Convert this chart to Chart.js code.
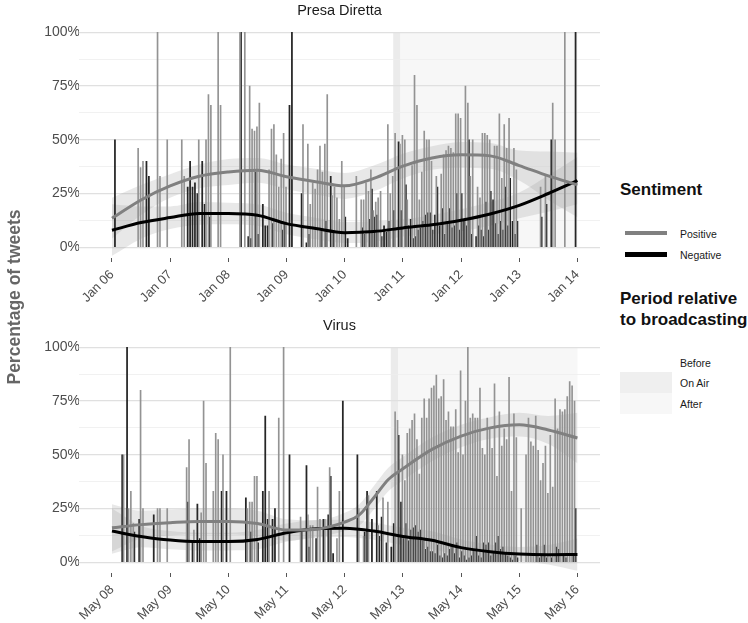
<!DOCTYPE html>
<html>
<head>
<meta charset="utf-8">
<script src="https://cdn.jsdelivr.net/npm/chart.js@4.4.1/dist/chart.umd.min.js"></script>
<style>
  body { margin: 0; background: #fff; font-family: "Liberation Sans", Arial, sans-serif; }
  #wrap { position: relative; width: 748px; height: 623px; overflow: hidden; }
  .panel { position: absolute; left: 0; width: 610px; height: 315px; }
  .abs { position: absolute; white-space: nowrap; }
  .ytitle { left: -136px; top: 287px; width: 300px; text-align: center; font-weight: bold;
            font-size: 17.5px; line-height: 20px; color: #666; transform: rotate(-90deg); }
  .lgtitle { font-weight: bold; font-size: 17px; line-height: 21px; color: #111; left: 620px; }
  .lglabel { font-size: 10.5px; line-height: 12px; color: #1a1a1a; left: 680px; }
</style>
</head>
<body>
<div id="wrap">
  <div class="panel" style="top:0"><canvas id="pdChart" width="610" height="315"></canvas></div>
  <div class="panel" style="top:315px"><canvas id="virusChart" width="610" height="315"></canvas></div>

  <div class="abs ytitle">Percentage of tweets</div>

  <div class="abs lgtitle" style="top:178.6px">Sentiment</div>
  <div class="abs" style="left:625px;top:231px;width:42px;height:4px;background:#808080"></div>
  <div class="abs lglabel" style="top:227.5px">Positive</div>
  <div class="abs" style="left:625px;top:252px;width:42px;height:5px;background:#000"></div>
  <div class="abs lglabel" style="top:248.5px">Negative</div>

  <div class="abs lgtitle" style="top:287.6px">Period relative<br>to broadcasting</div>
  <div class="abs" style="left:620px;top:372px;width:52px;height:21px;background:#efefef"></div>
  <div class="abs" style="left:620px;top:393px;width:52px;height:21px;background:#f7f7f7"></div>
  <div class="abs lglabel" style="top:356.7px">Before</div>
  <div class="abs lglabel" style="top:377.3px">On Air</div>
  <div class="abs lglabel" style="top:398px">After</div>
</div>

<script>
// hours since midnight of the first day, % of tweets
const pdDayLabels = ['Jan 06', 'Jan 07', 'Jan 08', 'Jan 09', 'Jan 10', 'Jan 11', 'Jan 12', 'Jan 13', 'Jan 14'];
const virusDayLabels = ['May 08', 'May 09', 'May 10', 'May 11', 'May 12', 'May 13', 'May 14', 'May 15', 'May 16'];
const yTicks = [0, 12.5, 25, 37.5, 50, 62.5, 75, 87.5, 100];

// periods: [start hour, end hour] for On Air and After
const pdPeriods = [[116, 119], [119, 192]];
const virusPeriods = [[115, 118], [118, 192]];

// hourly bars [hour, value]
const pdPositive = [[11,46],[12,37],[13,40],[19,100],[20,33],[23,50],[29,50],[30,33],[36,50],[39,50],[40,71],[41,66],
  [44,100],[45,66],[53,100],[55,100],[57,75],[58,55],[59,54],[60,56],[61,67],[65,36],[66,55],[67,57],[68,43],[69,28],
  [70,41],[71,53],[72,28],[79,57],[81,48],[82,20],[83,30],[84,27],[85,36],[86,47],[87,35],[88,48],[89,71],[91,24],
  [92,28],[93,23],[94,13],[95,40],[96,28],[101,33],[103,22],[104,22],[105,30],[106,26],[107,36],[108,17],[109,21],
  [110,23],[111,26],[114,57],[115,25],[116,33],[117,53],[119,48],[120,52],[121,50],[122,22],[124,38],[125,80],[126,66],
  [127,22],[128,35],[129,54],[130,50],[131,50],[132,40],[134,33],[136,34],[137,43],[138,45],[139,47],[140,46],[141,44],
  [142,62],[143,62],[144,60],[146,75],[147,67],[148,33],[149,50],[151,28],[152,23],[153,53],[154,53],[155,52],[156,50],
  [158,47],[159,47],[160,62],[161,32],[162,57],[163,46],[164,60],[166,46],[167,36],[177,28],[179,33],[182,67],[183,50],
  [187,100]];
const pdNegative = [[1,50],[14,40],[15,33],[31,28],[32,40],[33,28],[34,30],[35,25],[37,40],[38,20],[40,14],[53,100],
  [56,5],[57,4],[59,35],[60,6],[62,20],[63,10],[64,10],[66,11],[70,8],[71,11],[73,66],[74,100],[78,25],[80,2],[81,6],
  [86,8],[88,12],[90,33],[91,7],[96,14],[97,4],[103,9],[104,6],[106,13],[107,27],[108,14],[109,15],[111,5],[112,10],
  [113,7],[114,12],[116,17],[118,49],[119,17],[121,29],[122,10],[123,13],[124,4],[125,5],[126,8],[127,9],[128,12],
  [129,15],[130,16],[131,16],[132,8],[133,15],[134,28],[135,10],[136,18],[137,6],[138,12],[139,18],[140,9],[141,10],
  [142,25],[143,8],[144,25],[145,12],[146,10],[147,50],[148,6],[150,5],[151,10],[152,8],[153,5],[154,21],[155,8],
  [156,26],[157,22],[158,11],[159,6],[160,12],[161,8],[162,28],[163,10],[164,32],[165,12],[166,6],[167,12],[177,14],
  [179,20],[181,50],[191,100]];

const virusPositive = [[5,50],[7,25],[8,33],[9,18],[12,80],[13,25],[19,25],[20,25],[23,25],[31,44],[32,57],[34,15],
  [37,23],[38,75],[39,46],[42,33],[43,60],[44,57],[46,50],[49,100],[56,25],[57,28],[58,28],[59,40],[60,40],[65,33],
  [69,67],[71,100],[78,21],[81,22],[82,17],[83,17],[85,35],[86,20],[88,20],[90,44],[93,11],[94,33],[102,25],[104,12],
  [106,31],[110,17],[112,30],[114,28],[117,70],[118,66],[120,50],[121,38],[122,60],[123,62],[124,66],[125,69],[126,57],
  [127,41],[128,67],[129,76],[130,67],[131,76],[132,81],[133,82],[134,87],[135,76],[136,77],[137,85],[138,66],[139,70],
  [140,63],[141,63],[142,71],[143,51],[144,89],[145,50],[146,75],[147,100],[148,67],[149,69],[150,67],[151,67],[152,81],
  [153,53],[154,50],[155,67],[156,62],[157,53],[158,83],[159,40],[160,70],[161,54],[162,62],[163,57],[164,86],[165,33],
  [166,69],[167,58],[169,25],[171,50],[172,67],[173,56],[174,54],[175,68],[176,52],[177,38],[178,46],[179,54],[180,32],
  [181,59],[182,35],[183,76],[184,62],[185,71],[186,70],[187,71],[188,77],[189,84],[190,82],[191,75]];
const virusNegative = [[4,50],[6,100],[9,14],[11,20],[17,22],[31,28],[33,10],[35,27],[36,11],[45,33],[47,33],[55,30],
  [57,14],[60,9],[62,33],[63,68],[64,20],[66,20],[67,25],[73,50],[78,14],[80,45],[81,7],[84,11],[87,20],[89,22],[90,40],
  [91,4],[95,75],[101,50],[104,14],[105,33],[107,20],[109,33],[110,12],[111,21],[113,9],[115,7],[116,18],[118,59],
  [119,28],[120,11],[121,18],[122,10],[123,15],[124,16],[125,17],[126,14],[127,15],[128,10],[129,6],[130,7],[131,5],
  [132,5],[133,4],[134,8],[135,3],[136,2],[137,4],[138,3],[139,6],[140,7],[141,4],[142,9],[143,2],[144,5],[145,3],
  [146,1],[147,2],[148,3],[149,6],[150,12],[151,3],[152,2],[153,9],[154,8],[155,9],[156,3],[157,5],[158,9],[159,12],
  [160,6],[161,7],[162,4],[163,3],[164,2],[165,1],[166,3],[167,2],[175,8],[176,2],[177,3],[178,8],[179,2],[181,2],
  [183,7],[184,6],[186,3],[187,2],[190,4],[191,25]];

// smoothed trends with confidence band
const smoothHours = [0, 12, 24, 36, 48, 60, 72, 84, 96, 108, 120, 132, 144, 156, 168, 180, 192];
const pdPosSmooth = [13.5, 22, 28.5, 33, 35, 35.8, 32.8, 30.5, 28.6, 32, 37.7, 41.5, 43, 42.5, 38, 33.2, 29];
const pdPosLow    = [4, 15, 23, 27.5, 29, 30, 27, 24.5, 22.5, 26, 32, 36, 37, 36.5, 31, 22, 14];
const pdPosHigh   = [23, 29, 34, 38.5, 41, 41.5, 38.5, 36.5, 34.5, 38, 43.5, 47, 49, 48.5, 45, 44.5, 44];
const pdNegSmooth = [7.9, 11.5, 13.8, 15.7, 15.7, 14.9, 11, 8.7, 6.8, 7.3, 9, 10.5, 12.6, 15.5, 19.5, 25, 31];
const pdNegLow    = [-4, 4, 8.5, 10.5, 10.7, 10, 6, 3.7, 2, 2.5, 5, 6, 7.5, 10, 13.5, 16.5, 20];
const pdNegHigh   = [20, 19, 19, 21, 20.7, 20, 16, 13.7, 11.8, 12.1, 13, 15, 17.7, 21, 25.5, 33.5, 42];

const virusPosHours  = [0, 12, 24, 36, 48, 60, 72, 84, 96, 102, 108, 114, 120, 132, 144, 156, 168, 180, 192];
const virusPosSmooth = [16, 17.5, 18.4, 19, 19, 18, 15, 15.4, 18.7, 22, 30, 38.5, 43.5, 52.5, 58.7, 62.5, 63.9, 61.5, 57.8];
const virusPosLow    = [5, 11, 12.5, 13, 13, 12, 10, 11.5, 14.5, 17, 24.5, 33, 38, 47, 53.5, 57.5, 58.5, 55, 46];
const virusPosHigh   = [27, 24, 24.5, 25, 25, 24, 20, 19.5, 23, 27, 35.5, 44, 49, 58, 64, 67.5, 69.5, 68, 69.5];
const virusNegSmooth = [14.5, 12, 10.3, 9.6, 9.6, 10.6, 13.7, 15.6, 15.8, 14.5, 12, 10.2, 6.8, 4.9, 3.8, 3.5, 3.6];
const virusNegLow    = [4, 7, 6, 5.5, 5.5, 6, 9.5, 11.5, 11.8, 10.5, 8, 6, 3, 1.5, 0.5, -1, -4];
const virusNegHigh   = [25, 17, 14.5, 13.7, 13.7, 15, 18, 19.7, 19.8, 18.5, 16, 14.4, 10.6, 8.3, 7.1, 8, 11];

const FONT = '"Liberation Sans", Arial, sans-serif';
const BAND = 'rgba(150,150,150,0.22)';

function pairsToPoints(pairs) {
  return pairs.map(p => ({ x: p[0], y: p[1] }));
}
function zip(hours, values) {
  return hours.map((h, i) => ({ x: h, y: values[i] }));
}

// On Air / After background rectangles, under the grid
const periodShading = {
  id: 'periodShading',
  beforeDraw(chart, args, opts) {
    const { ctx, scales: { x, y } } = chart;
    ctx.save();
    opts.periods.forEach((p, i) => {
      const l = x.getPixelForValue(p[0]);
      const r = x.getPixelForValue(p[1]);
      const t = y.getPixelForValue(100);
      const b = y.getPixelForValue(0);
      ctx.fillStyle = opts.colors[i];
      ctx.fillRect(l, t, r - l, b - t);
    });
    ctx.restore();
  }
};

function bandDatasets(hours, low, high) {
  const common = { type: 'line', pointRadius: 0, borderWidth: 0, tension: 0.4,
                   cubicInterpolationMode: 'monotone', backgroundColor: BAND, order: 3 };
  return [
    Object.assign({ data: zip(hours, high), fill: false }, common),
    Object.assign({ data: zip(hours, low), fill: '-1' }, common)
  ];
}

function makePanel(id, title, dayLabels, periods, pos, neg, posHours, posSmooth, posLow, posHigh,
                   negHours, negSmooth, negLow, negHigh) {
  const datasets = [
    { type: 'bar', label: 'Positive', data: pairsToPoints(pos), backgroundColor: '#939393',
      barThickness: 1, order: 2 },
    { type: 'bar', label: 'Negative', data: pairsToPoints(neg), backgroundColor: '#262626',
      barThickness: 1.1, order: 2 },
    ...bandDatasets(posHours, posLow, posHigh),
    ...bandDatasets(negHours, negLow, negHigh),
    { type: 'line', label: 'Positive trend', data: zip(posHours, posSmooth), borderColor: '#808080',
      borderWidth: 3, pointRadius: 0, tension: 0.4, cubicInterpolationMode: 'monotone', fill: false, order: 0 },
    { type: 'line', label: 'Negative trend', data: zip(negHours, negSmooth), borderColor: '#000',
      borderWidth: 3, pointRadius: 0, tension: 0.4, cubicInterpolationMode: 'monotone', fill: false, order: 0 }
  ];

  new Chart(document.getElementById(id), {
    type: 'bar',
    data: { datasets },
    plugins: [periodShading],
    options: {
      responsive: false,
      animation: false,
      events: [],
      layout: { padding: { left: 0, right: 10, top: 0, bottom: 0 } },
      plugins: {
        legend: { display: false },
        tooltip: { enabled: false },
        title: { display: true, text: title, fullSize: false, color: '#1a1a1a',
                 font: { family: FONT, size: 14.5, weight: 'normal' }, padding: { top: 2, bottom: 2.1 } },
        periodShading: { periods, colors: ['#ebebeb', '#f7f7f7'] }
      },
      scales: {
        x: {
          type: 'linear', min: -13.6, max: 201.3, offset: false,
          afterBuildTicks: s => { s.ticks = dayLabels.map((_, i) => ({ value: i * 24 })); },
          afterFit: s => { s.height = 57; },
          ticks: { autoSkip: false, minRotation: 45, maxRotation: 45, padding: 5, color: '#4d4d4d',
                   font: { family: FONT, size: 13 },
                   callback: v => dayLabels[Math.round(v / 24)] },
          grid: { offset: false, drawOnChartArea: false, drawTicks: true, tickLength: 4,
                  tickColor: '#555', tickWidth: 1 },
          border: { display: false }
        },
        y: {
          min: -5, max: 105,
          afterBuildTicks: s => { s.ticks = yTicks.map(v => ({ value: v })); },
          afterFit: s => { s.width = 79; },
          ticks: { padding: -1, color: '#4d4d4d', font: { family: FONT, size: 14 },
                   callback: v => (v % 25 === 0 ? v + '%' : '') },
          grid: { drawTicks: false,
                  color: c => (c.tick && c.tick.value % 25 === 0 ? '#e0e0e0' : '#ededed'),
                  lineWidth: c => (c.tick && c.tick.value % 25 === 0 ? 1.2 : 0.8) },
          border: { display: false }
        }
      }
    }
  });
}

makePanel('pdChart', 'Presa Diretta', pdDayLabels, pdPeriods, pdPositive, pdNegative,
          smoothHours, pdPosSmooth, pdPosLow, pdPosHigh, smoothHours, pdNegSmooth, pdNegLow, pdNegHigh);
makePanel('virusChart', 'Virus', virusDayLabels, virusPeriods, virusPositive, virusNegative,
          virusPosHours, virusPosSmooth, virusPosLow, virusPosHigh, smoothHours, virusNegSmooth, virusNegLow, virusNegHigh);
</script>
</body>
</html>
